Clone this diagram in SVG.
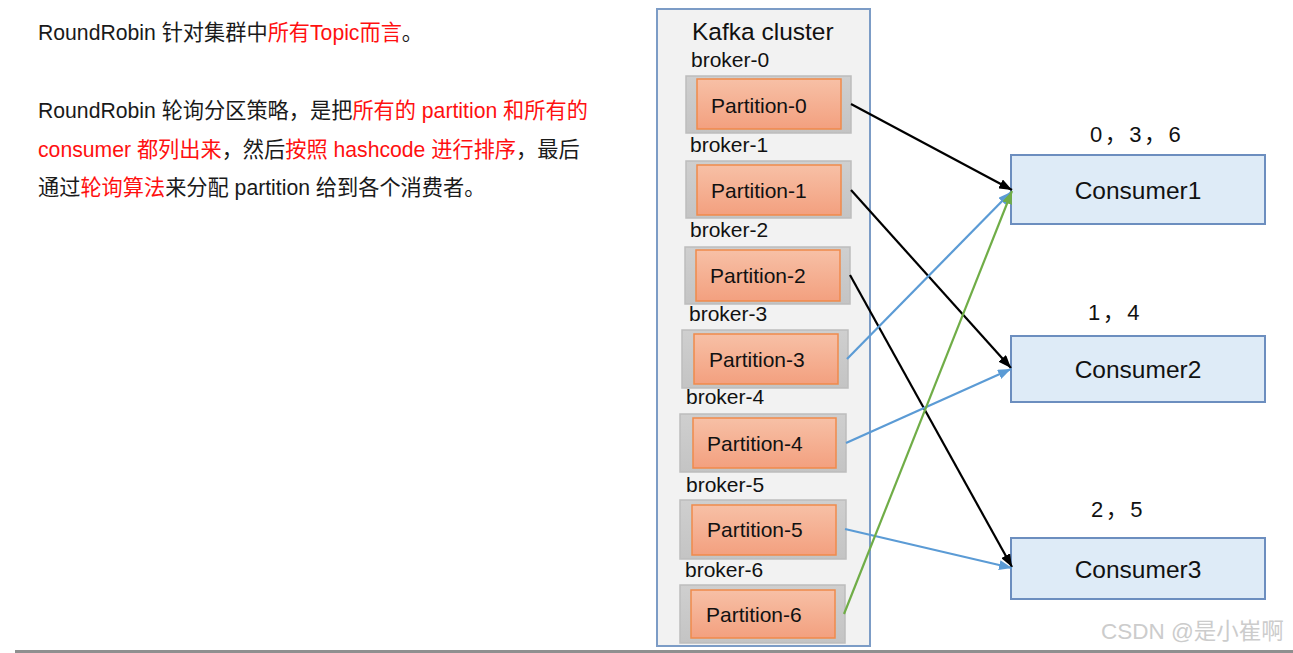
<svg xmlns="http://www.w3.org/2000/svg" width="1293" height="653" viewBox="0 0 1293 653">
<style>
text{font-family:"Liberation Sans","Noto Sans CJK SC",sans-serif;}
.desc{font-size:21.2px;fill:#1a1a1a;}
.red{fill:#ff1010;}
.broker{font-size:21px;fill:#111;}
.ptxt{font-size:21px;fill:#111;}
.ctxt{font-size:24.5px;fill:#111;text-anchor:middle;}
.num{font-size:22px;fill:#111;letter-spacing:2.5px;}
.outer{fill:url(#gGray);stroke:#bdbdbd;stroke-width:1.5;}
.inner{fill:url(#gOrange);stroke:#f08a4b;stroke-width:1.5;}
.cons{fill:#deebf7;stroke:#6c8ebf;stroke-width:2;}
.ln{fill:none;stroke-width:2.2;}
.blk{stroke:#000;}
.blu{stroke:#5b9bd5;}
.grn{stroke:#70ad47;}
</style>
<defs>
<linearGradient id="gGray" x1="0" y1="0" x2="0" y2="1">
<stop offset="0" stop-color="#cfcfcf"/><stop offset="1" stop-color="#c4c4c4"/>
</linearGradient>
<linearGradient id="gOrange" x1="0" y1="0" x2="0" y2="1">
<stop offset="0" stop-color="#f7c0a6"/><stop offset="1" stop-color="#f3a07f"/>
</linearGradient>
<marker id="aBlk" markerUnits="userSpaceOnUse" markerWidth="14" markerHeight="10" refX="13" refY="5" orient="auto"><path d="M0,0 L13,5 L0,10 z" fill="#000"/></marker>
<marker id="aBlu" markerUnits="userSpaceOnUse" markerWidth="14" markerHeight="10" refX="13" refY="5" orient="auto"><path d="M0,0 L13,5 L0,10 z" fill="#5b9bd5"/></marker>
<marker id="aGrn" markerUnits="userSpaceOnUse" markerWidth="14" markerHeight="10" refX="13" refY="5" orient="auto"><path d="M0,0 L13,5 L0,10 z" fill="#70ad47"/></marker>
</defs>
<rect width="1293" height="653" fill="#ffffff"/>

<g id="description">
<text class="desc" x="38" y="40">RoundRobin 针对集群中<tspan class="red">所有Topic而言</tspan>。</text>
<text class="desc" x="38" y="118">RoundRobin 轮询分区策略，是把<tspan class="red">所有的 partition 和所有的</tspan></text>
<text class="desc" x="38" y="157"><tspan class="red">consumer 都列出来</tspan>，然后<tspan class="red">按照 hashcode 进行排序</tspan>，最后</text>
<text class="desc" x="38" y="195">通过<tspan class="red">轮询算法</tspan>来分配 partition 给到各个消费者。</text>
</g>

<g id="kafka-cluster">
<rect x="657" y="9" width="213" height="637" fill="#f2f2f2" stroke="#7c9cc6" stroke-width="2"/>
<text x="692" y="40" style="font-size:24.5px;fill:#111;">Kafka cluster</text>
</g>

<g id="partition-0">
<text class="broker" x="691" y="67">broker-0</text>
<rect class="outer" x="686" y="76" width="165" height="57"/>
<rect class="inner" x="697" y="79" width="144" height="50"/>
<text class="ptxt" x="711" y="113">Partition-0</text>
</g>
<g id="partition-1">
<text class="broker" x="690" y="152">broker-1</text>
<rect class="outer" x="686" y="161" width="165" height="57"/>
<rect class="inner" x="697" y="165" width="144" height="50"/>
<text class="ptxt" x="711" y="198">Partition-1</text>
</g>
<g id="partition-2">
<text class="broker" x="690" y="237">broker-2</text>
<rect class="outer" x="685" y="247" width="165" height="57"/>
<rect class="inner" x="696" y="250" width="144" height="51"/>
<text class="ptxt" x="710" y="283">Partition-2</text>
</g>
<g id="partition-3">
<text class="broker" x="689" y="321">broker-3</text>
<rect class="outer" x="682" y="330" width="166" height="58"/>
<rect class="inner" x="694" y="334" width="144" height="50"/>
<text class="ptxt" x="709" y="367">Partition-3</text>
</g>
<g id="partition-4">
<text class="broker" x="686" y="404">broker-4</text>
<rect class="outer" x="680" y="414" width="166" height="58"/>
<rect class="inner" x="693" y="418" width="143" height="50"/>
<text class="ptxt" x="707" y="451">Partition-4</text>
</g>
<g id="partition-5">
<text class="broker" x="686" y="492">broker-5</text>
<rect class="outer" x="680" y="500" width="166" height="59"/>
<rect class="inner" x="692" y="505" width="144" height="50"/>
<text class="ptxt" x="707" y="537">Partition-5</text>
</g>
<g id="partition-6">
<text class="broker" x="685" y="577">broker-6</text>
<rect class="outer" x="680" y="585" width="165" height="58"/>
<rect class="inner" x="691" y="590" width="144" height="48"/>
<text class="ptxt" x="706" y="622">Partition-6</text>
</g>

<g id="consumer1">
<text class="num" x="1090" y="142">0，3，6</text>
<rect class="cons" x="1011" y="155" width="254" height="69"/>
<text class="ctxt" x="1138" y="199">Consumer1</text>
</g>
<g id="consumer2">
<text class="num" x="1088" y="320">1，4</text>
<rect class="cons" x="1011" y="336" width="254" height="66"/>
<text class="ctxt" x="1138" y="378">Consumer2</text>
</g>
<g id="consumer3">
<text class="num" x="1091" y="517">2，5</text>
<rect class="cons" x="1011" y="538" width="254" height="61"/>
<text class="ctxt" x="1138" y="578">Consumer3</text>
</g>

<g id="connectors">
<path class="ln blk" d="M851,104 L1012,190" marker-end="url(#aBlk)"/>
<path class="ln blk" d="M851,190 L1011,368" marker-end="url(#aBlk)"/>
<path class="ln blk" d="M850,275 L1012,567" marker-end="url(#aBlk)"/>
<path class="ln blu" d="M847,359 L1011,192" marker-end="url(#aBlu)"/>
<path class="ln blu" d="M846,443 L1011,369" marker-end="url(#aBlu)"/>
<path class="ln blu" d="M845,529 L1012,568" marker-end="url(#aBlu)"/>
<path class="ln grn" d="M844,614 L1012,191" marker-end="url(#aGrn)"/>
</g>

<text x="1101" y="639" style="font-size:22.5px;fill:#cccccc;">CSDN @是小崔啊</text>
<rect x="15" y="650" width="1278" height="3" fill="#8f8f8f"/>
</svg>
